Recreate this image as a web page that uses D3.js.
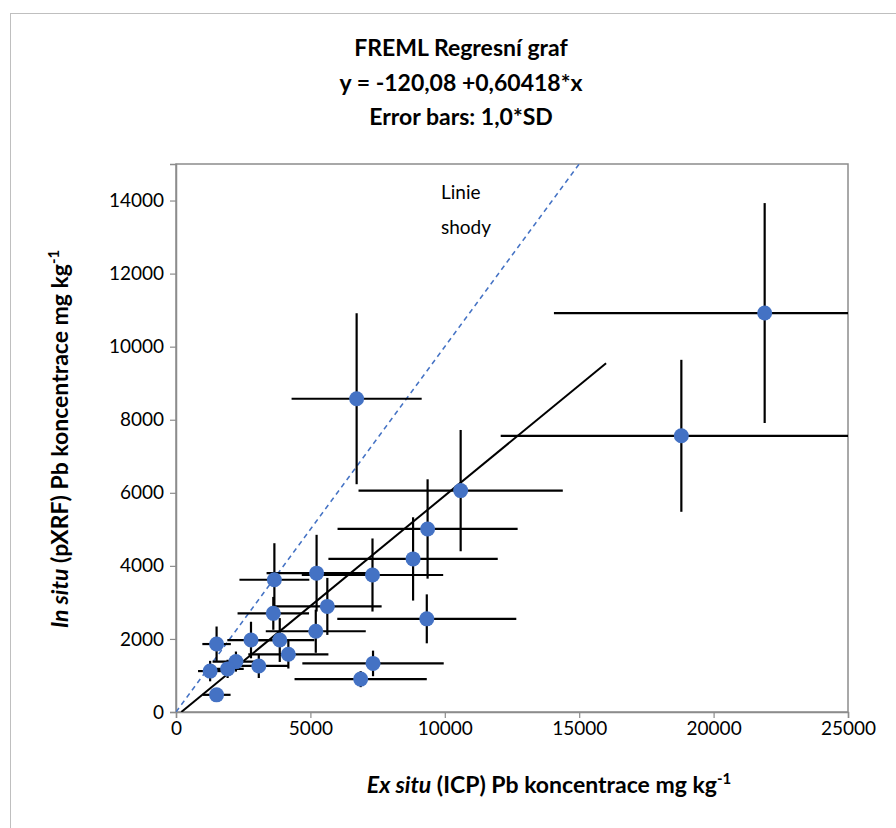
<!DOCTYPE html>
<html>
<head>
<meta charset="utf-8">
<script src="https://cdn.jsdelivr.net/npm/d3@7"></script>
<style>
  body { margin: 0; background: #fff; }
  svg text { font-family: Lato, "Open Sans", sans-serif; fill: #000; }
</style>
</head>
<body>
<div id="chart"></div>
<script>
// FREML regression plot: ex situ (ICP) vs in situ (pXRF) Pb

const exSitu   = [21900, 18800, 6720, 10590, 9360, 8820, 7310, 5230, 3660, 5630, 3620, 5200, 9330, 2790, 3860, 4180, 1510, 2230, 1920, 1270, 3080, 7330, 6870, 1510];
const inSitu   = [10920, 7560, 8575, 6060, 5010, 4190, 3750, 3800, 3620, 2890, 2700, 2210, 2550, 1970, 1970, 1580, 1860, 1380, 1180, 1120, 1260, 1330, 900, 470];
const exSituSD = [7840, 6720, 2420, 3800, 3350, 3150, 2630, 1860, 1300, 2020, 1330, 1860, 3330, 880, 1290, 1490, 530, 870, 600, 450, 1100, 2630, 2460, 520];
const inSituSD = [3010, 2080, 2340, 1660, 1360, 1140, 1000, 1050, 1000, 780, 450, 590, 670, 500, 600, 390, 480, 275, 250, 280, 330, 350, 220, 150];

const xTicks = [0, 5000, 10000, 15000, 20000, 25000];
const yTicks = [0, 2000, 4000, 6000, 8000, 10000, 12000, 14000];
const titleLines = ['FREML Regresní graf', 'y = -120,08 +0,60418*x', 'Error bars: 1,0*SD'];

// regression coefficients and line range
const intercept = -120.08;
const slope = 0.60418;
const regRange = [-intercept / slope, 16000];
const identityRange = [0, 15000];

const width = 896, height = 828;
const margin = { top: 164, right: 48, bottom: 116, left: 176 };
const innerWidth = width - margin.left - margin.right;
const innerHeight = height - margin.top - margin.bottom;

const data = exSitu.map((x, i) => ({ x, y: inSitu[i], sx: exSituSD[i], sy: inSituSD[i] }));

const svg = d3.select('#chart').append('svg')
    .attr('width', width)
    .attr('height', height);

// outer chart border
svg.append('rect')
    .attr('x', 10.5).attr('y', 13.5)
    .attr('width', 920).attr('height', 840)
    .attr('fill', 'none')
    .attr('stroke', '#bfbfbf')
    .attr('stroke-width', 1);

// title
svg.append('g').selectAll('text')
    .data(titleLines)
    .enter()
    .append('text')
    .attr('x', 461)
    .attr('y', (d, i) => 56 + i * 34.5)
    .attr('text-anchor', 'middle')
    .attr('font-size', 23)
    .attr('font-weight', 'bold')
    .text(d => d);

const x = d3.scaleLinear().domain([0, 25000]).range([0, innerWidth]);
const y = d3.scaleLinear().domain([0, 15000]).range([innerHeight, 0]);

svg.append('defs').append('clipPath')
    .attr('id', 'plot-clip')
    .append('rect')
    .attr('width', innerWidth)
    .attr('height', innerHeight);

const g = svg.append('g')
    .attr('transform', `translate(${margin.left},${margin.top})`);

// plot area border
g.append('rect')
    .attr('width', innerWidth)
    .attr('height', innerHeight)
    .attr('fill', 'none')
    .attr('stroke', '#8c8c8c')
    .attr('stroke-width', 1.5);

// axes
g.append('g')
    .attr('class', 'axis x-axis')
    .attr('transform', `translate(0,${innerHeight})`)
    .call(d3.axisBottom(x).tickValues(xTicks).tickSize(6).tickPadding(4).tickFormat(d3.format('d')));

g.append('g')
    .attr('class', 'axis y-axis')
    .call(d3.axisLeft(y).tickValues(yTicks).tickSize(6).tickPadding(6).tickFormat(d3.format('d')));

g.selectAll('.axis .domain').attr('stroke', '#8c8c8c').attr('stroke-width', 1.5);
g.selectAll('.axis .tick line').attr('stroke', '#8c8c8c').attr('stroke-width', 1.2);
g.selectAll('.axis .tick text')
    .attr('font-size', 19)
    .attr('font-family', 'Lato, "Open Sans", sans-serif')
    .attr('fill', '#000');

const plot = g.append('g').attr('clip-path', 'url(#plot-clip)');

// identity line ("Linie shody")
plot.append('line')
    .attr('x1', x(identityRange[0])).attr('y1', y(identityRange[0]))
    .attr('x2', x(identityRange[1])).attr('y2', y(identityRange[1]))
    .attr('stroke', '#4472c4')
    .attr('stroke-width', 1.5)
    .attr('stroke-dasharray', '5,4');

// regression line
plot.append('line')
    .attr('x1', x(regRange[0])).attr('y1', y(intercept + slope * regRange[0]))
    .attr('x2', x(regRange[1])).attr('y2', y(intercept + slope * regRange[1]))
    .attr('stroke', '#000')
    .attr('stroke-width', 2);

// error bars
plot.selectAll('.err-x')
    .data(data)
    .enter()
    .append('line')
    .attr('class', 'err-x')
    .attr('x1', d => x(d.x - d.sx))
    .attr('x2', d => x(d.x + d.sx))
    .attr('y1', d => y(d.y))
    .attr('y2', d => y(d.y))
    .attr('stroke', '#000')
    .attr('stroke-width', 2.2);

plot.selectAll('.err-y')
    .data(data)
    .enter()
    .append('line')
    .attr('class', 'err-y')
    .attr('x1', d => x(d.x))
    .attr('x2', d => x(d.x))
    .attr('y1', d => y(d.y - d.sy))
    .attr('y2', d => y(d.y + d.sy))
    .attr('stroke', '#000')
    .attr('stroke-width', 2.2);

// points
plot.selectAll('.dot')
    .data(data)
    .enter()
    .append('circle')
    .attr('class', 'dot')
    .attr('cx', d => x(d.x))
    .attr('cy', d => y(d.y))
    .attr('r', 7.5)
    .attr('fill', '#4472c4');

// label for identity line
const lbl = g.append('text')
    .attr('font-size', 19);
lbl.append('tspan').attr('x', 265).attr('y', 35).text('Linie');
lbl.append('tspan').attr('x', 265).attr('y', 70).text('shody');

// axis titles
const xTitle = svg.append('text')
    .attr('x', 549)
    .attr('y', 793)
    .attr('text-anchor', 'middle')
    .attr('font-size', 23)
    .attr('font-weight', 'bold');
xTitle.append('tspan').attr('font-style', 'italic').text('Ex situ');
xTitle.append('tspan').text(' (ICP) Pb koncentrace mg kg');
xTitle.append('tspan').attr('font-size', 15).attr('dy', -9).text('-1');

const yTitle = svg.append('text')
    .attr('transform', 'translate(68,439) rotate(-90)')
    .attr('text-anchor', 'middle')
    .attr('font-size', 23)
    .attr('font-weight', 'bold');
yTitle.append('tspan').attr('font-style', 'italic').text('In situ');
yTitle.append('tspan').text(' (pXRF) Pb koncentrace mg kg');
yTitle.append('tspan').attr('font-size', 15).attr('dy', -9).text('-1');
</script>
</body>
</html>
